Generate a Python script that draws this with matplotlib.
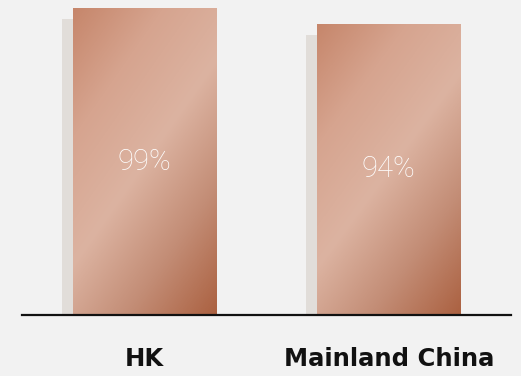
import matplotlib.pyplot as plt
import matplotlib.transforms as mtransforms
from matplotlib.colors import LinearSegmentedColormap
import numpy as np

categories = ['HK', 'Mainland China']
values = [99, 94]

bg = '#f2f2f2'
copper = LinearSegmentedColormap.from_list(
    'copper_sheen', ['#c6866b', '#d6a48f', '#dcb3a1', '#c38d76', '#ab6141'],
    N=256)

fig = plt.figure(figsize=(5.21, 3.76), dpi=100, facecolor=bg)
ax = fig.add_axes([22 / 521, 61 / 376, 489 / 521, 315 / 376])
ax.set_facecolor(bg)

x = np.arange(len(categories))
width = 0.585

# shadow: same bars shifted left and down a bit
shadow_tr = mtransforms.offset_copy(ax.transData, fig=fig, x=-11, y=-11, units='dots')
ax.bar(x, values, width=width, color='#e1ddd9', transform=shadow_tr, zorder=1)

bars = ax.bar(x, values, width=width, color='none', zorder=2)

# diagonal gradient fill clipped to each bar
ny, nx = 306, 143
yy, xx = np.mgrid[0:ny, 0:nx]
t = (205 * xx + 143 * yy) / (205 * (nx - 1) + 143 * (ny - 1))
for b in bars:
    x0, w, h = b.get_x(), b.get_width(), b.get_height()
    im = ax.imshow(t, cmap=copper, vmin=0, vmax=1, aspect='auto',
                   extent=[x0, x0 + w, 0, h], origin='upper', zorder=2,
                   interpolation='bilinear')
    im.set_clip_path(b)

for xi, v in zip(x, values):
    ax.text(xi, v / 2, f'{v}%', ha='center', va='center', color='white',
            fontsize=21, family='Roboto', fontweight='light', zorder=4)

ax.set_xlim(-0.5, 1.5)
ax.set_ylim(0, 101.6)
ax.axhline(0, color='#111111', linewidth=1.6, zorder=5, clip_on=False)

for s in ax.spines.values():
    s.set_visible(False)
ax.set_yticks([])
ax.set_xticks(x)
ax.set_xticklabels(categories, fontsize=17.5, fontweight='bold', family='DejaVu Sans',
                   color='#111111')
ax.tick_params(axis='x', length=0, pad=23)

fig.savefig('out.png', dpi=100, facecolor=bg)
